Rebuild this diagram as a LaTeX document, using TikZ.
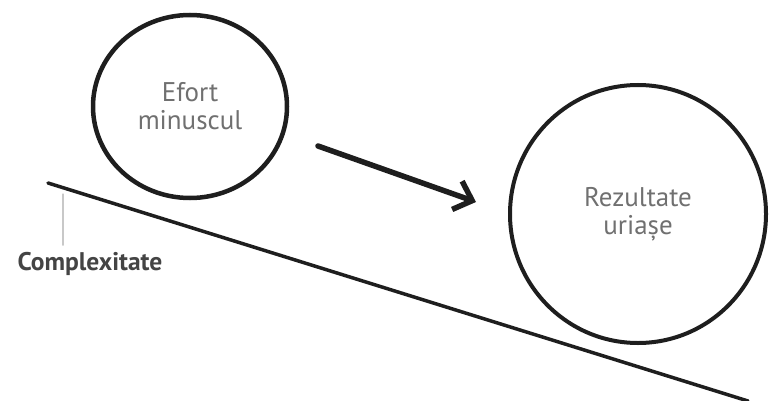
\documentclass[tikz,border=0pt]{standalone}
\usepackage{fontspec}
\setmainfont{PT Sans}
\usetikzlibrary{arrows.meta,shapes.geometric}
\definecolor{inkdark}{HTML}{1E1E1E}
\definecolor{textgray}{HTML}{707070}
\definecolor{labelgray}{HTML}{444444}
\definecolor{leadgray}{HTML}{C8C8C8}

\begin{document}
\begin{tikzpicture}[
						x=1pt, y=-1pt,
						every node/.style={font=\fontsize{27}{28}\selectfont, text=textgray, align=center},
						ball/.style={draw=inkdark, ellipse, inner sep=0pt},
						line cap=round,
						line join=round
						]
						\useasboundingbox (0,0) rectangle (770,401);
						
						\node[ball, line width=4.5pt, minimum width=194pt, minimum height=183pt] (effort) at (190,106.5) {Efort\\minuscul};
						\node[ball, line width=4pt, minimum width=256pt, minimum height=258pt] (result) at (638,214) {Rezultate\\uriașe};
						
						\coordinate (slopetop) at (48,183);
						\coordinate (slopeend) at (748,401);
						\draw[inkdark, line width=3.5pt] (slopetop) -- (slopeend);
						
						\coordinate (leadtop) at (63,194);
						\node[font=\bfseries\fontsize{25.5}{28}\selectfont, text=labelgray, inner sep=0pt] (complexity) at (90,264) {Complexitate};
						\draw[leadgray, line width=1.3pt, shorten >=7pt] (leadtop) -- (leadtop |- complexity.north);
						
						\coordinate (pushfrom) at (318,146);
						\coordinate (pushto) at (476,202);
						\draw[inkdark, line width=5.5pt, -{Straight Barb[length=16pt, width=30pt]}] (pushfrom) -- (pushto);
						
					\end{tikzpicture}
\end{document}
